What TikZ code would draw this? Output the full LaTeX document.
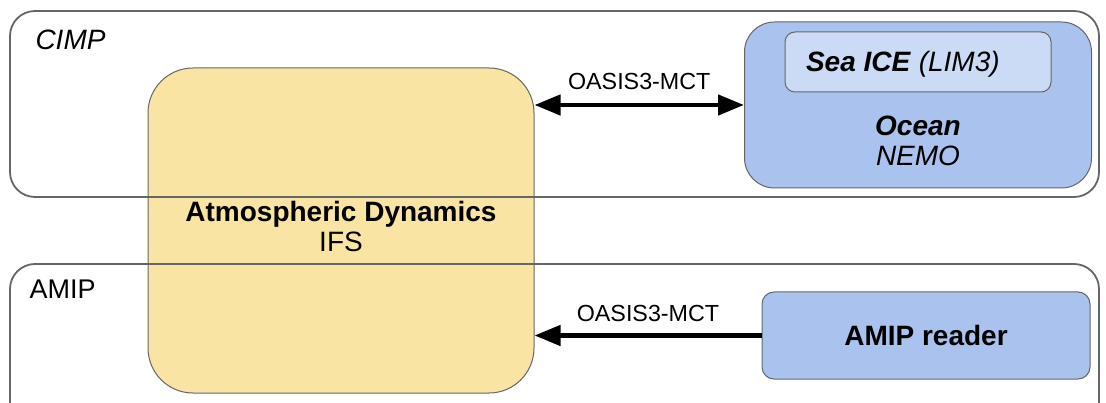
\documentclass[tikz,border=0pt]{standalone}
\usepackage{fontspec}
\setmainfont{Liberation Sans}
\usetikzlibrary{calc, shapes.geometric, arrows, arrows.meta, positioning, fit}

\definecolor{atmosyellow}{HTML}{F9E4A3}
\definecolor{oceanblue}{HTML}{A9C3EE}
\definecolor{iceblue}{HTML}{CBDAF5}
\definecolor{edgegray}{HTML}{666666}

\begin{document}
\begin{tikzpicture}[
        x=1pt, y=-1pt,
        every node/.style={font=\fontsize{28}{30}\selectfont, align=center},
        component/.style={draw=edgegray, line width=1pt, inner sep=0pt},
        setup/.style={draw=edgegray, line width=1.8pt, rounded corners=25pt},
        coupler/.style={line width=4.5pt, -{Triangle[length=26pt, width=20pt]}},
        couplerboth/.style={line width=4.5pt, {Triangle[length=26pt, width=20pt]}-{Triangle[length=26pt, width=20pt]}},
        couplertext/.style={font=\fontsize{23.3}{26}\selectfont}
    ]
    \useasboundingbox (0,0) rectangle (1106,403);

    % models
    \node[component, fill=atmosyellow, rounded corners=45pt, minimum width=386pt, minimum height=325pt] (atmos) at (341,230.5) {};
    \node (atmostext) at (341,226) {\textbf{Atmospheric Dynamics}\\IFS};

    \node[component, fill=oceanblue, rounded corners=30pt, minimum width=347pt, minimum height=166pt] (ocean) at (918,105) {};
    \node[component, fill=iceblue, rounded corners=10pt, minimum width=266pt, minimum height=60pt] (seaice) at (918,62) {};
    \node[anchor=west] (seaicetext) at ([xshift=18pt, yshift=-2pt]seaice.west) {\textbf{\textit{Sea ICE}} \textit{(LIM3)}};
    \node (oceantext) at (918,141) {\textbf{\textit{Ocean}}\\\textit{NEMO}};

    \node[component, fill=oceanblue, rounded corners=12pt, minimum width=328pt, minimum height=87pt, font=\fontsize{28}{30}\selectfont\bfseries] (reader) at (926,335.5) {AMIP reader};

    % experiment setups
    \draw[setup] (10,11) rectangle (1099,197);
    \draw[setup] (10,264) rectangle (1099,430);
    \node[anchor=west, font=\fontsize{28}{30}\selectfont\itshape] (cimp) at (32,40) {CIMP};
    \node[anchor=west, font=\fontsize{27}{30}\selectfont] (amip) at (26,289) {AMIP};

    % coupling
    \draw[couplerboth] (atmos.east |- ocean.west) -- (ocean.west)
        node[midway, above=10pt, couplertext] (oasisa) {OASIS3-MCT};
    \draw[coupler] (reader.west) -- (atmos.east |- reader.west)
        node[midway, above=8pt, couplertext] (oasisb) {OASIS3-MCT};
\end{tikzpicture}
\end{document}
